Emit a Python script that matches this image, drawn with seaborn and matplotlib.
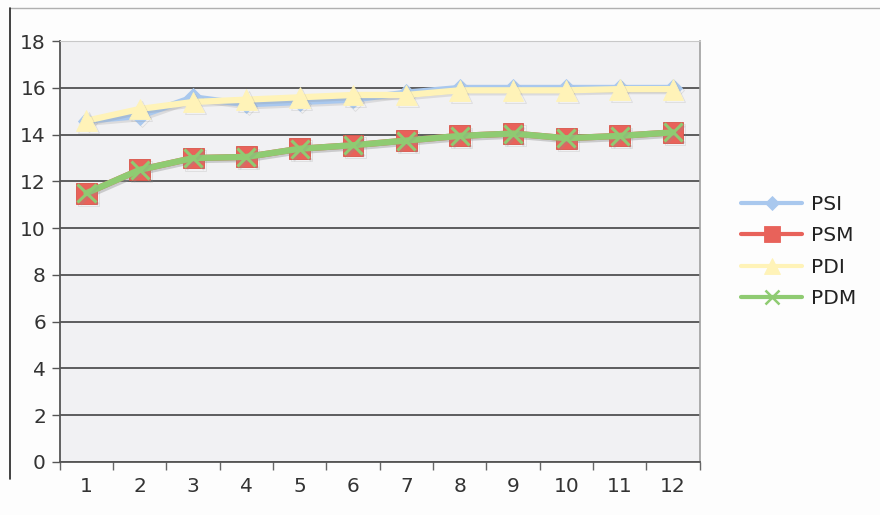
import matplotlib
matplotlib.use("Agg")
import matplotlib.pyplot as plt
import matplotlib.patheffects as pe
from matplotlib.lines import Line2D
import numpy as np
import pandas as pd
import seaborn as sns

periods = list(range(1, 13))
psi = [14.6, 14.8, 15.6, 15.3, 15.4, 15.5, 15.8, 16.0, 16.0, 16.0, 16.0, 16.0]
psm = [11.5, 12.5, 13.0, 13.05, 13.4, 13.55, 13.75, 13.95, 14.05, 13.85, 13.95, 14.1]
pdi = [14.6, 15.1, 15.4, 15.5, 15.6, 15.7, 15.7, 15.9, 15.9, 15.9, 15.95, 15.95]
pdm = [11.5, 12.5, 13.0, 13.05, 13.4, 13.55, 13.75, 13.95, 14.05, 13.85, 13.95, 14.1]

series_names = ["PSI", "PSM", "PDI", "PDM"]
series_values = [psi, psm, pdi, pdm]
colors = ["#A9C8EE", "#E8625A", "#FFF3B8", "#8FCB72"]
markers = ["D", "s", "^", "x"]
marker_sizes = [9, 15, 15, 13]
y_ticks = [0, 2, 4, 6, 8, 10, 12, 14, 16, 18]

df = pd.DataFrame({
    "period": np.tile(periods, len(series_names)),
    "value": np.concatenate(series_values),
    "series": np.repeat(series_names, len(periods)),
})

sns.set_theme(style="white")
plt.rcParams["font.family"] = ["Verdana", "DejaVu Sans"]

fig = plt.figure(figsize=(8.8, 5.15), dpi=100, facecolor="#FDFDFD")
ax = fig.add_axes([0.068, 0.103, 0.727, 0.817])
ax.set_facecolor("#F1F1F3")

shadow = [pe.SimpleLineShadow(offset=(1.5, -1.5), shadow_color="#909090", alpha=0.22), pe.Normal()]

for name, col, mk, ms in zip(series_names, colors, markers, marker_sizes):
    sub = df[df["series"] == name]
    sns.lineplot(data=sub, x="period", y="value", ax=ax, color=col, lw=4.5,
                 marker=mk, markersize=ms, markeredgewidth=2.2 if mk == "x" else 0.6,
                 markeredgecolor=col if mk != "s" else "#D85448",
                 legend=False, zorder=3)
for line in ax.get_lines():
    line.set_path_effects(shadow)

ax.set_xlim(0.5, 12.5)
ax.set_ylim(0, 18)
ax.set_yticks(y_ticks)
ax.set_xticks(periods)
ax.set_xticks(np.arange(0.5, 13, 1), minor=True)
ax.yaxis.grid(True, color="#353535", lw=1.1)
ax.set_axisbelow(True)
ax.tick_params(axis="y", which="major", length=6, width=1, color="#555555",
               labelsize=14.5, labelcolor="#333333", pad=4, left=True)
ax.tick_params(axis="x", which="major", length=0, labelsize=14.5,
               labelcolor="#333333", pad=11)
ax.tick_params(axis="x", which="minor", length=6, width=1, color="#666666",
               bottom=True)
ax.set_xlabel("")
ax.set_ylabel("")

for side in ["left", "bottom"]:
    ax.spines[side].set_color("#555555")
    ax.spines[side].set_linewidth(1.3)
ax.spines["right"].set_color("#A0A0A0")
ax.spines["right"].set_linewidth(1.2)
ax.spines["top"].set_color("#C8C8C8")
ax.spines["top"].set_linewidth(0.8)

handles = [Line2D([0], [0], color=c, lw=3, marker=m, markersize=s * 0.8,
                  markeredgewidth=1.8 if m == "x" else 0.6, markeredgecolor=c)
           for c, m, s in zip(colors, markers, marker_sizes)]
fig.legend(handles, series_names, loc="center left", bbox_to_anchor=(0.822, 0.512),
           frameon=False, fontsize=14.5, handlelength=3.0, labelspacing=0.62,
           handletextpad=0.45, labelcolor="#222222")

# chart frame edges
fig.add_artist(Line2D([0.011, 1.0], [0.985, 0.985], color="#B0B0B0", lw=1.0))
fig.add_artist(Line2D([0.011, 0.011], [0.985, 0.07], color="#222222", lw=1.2))

fig.savefig("out.png", dpi=100, facecolor=fig.get_facecolor())
